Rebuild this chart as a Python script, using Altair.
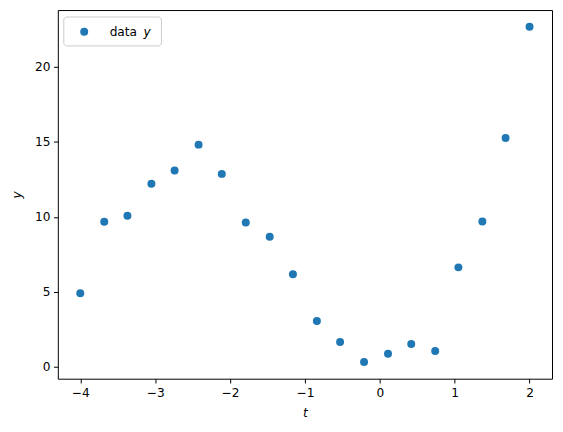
import altair as alt
import pandas as pd

t_values = [-4.0, -3.68, -3.37, -3.05, -2.74, -2.42, -2.11, -1.79, -1.47, -1.16,
            -0.84, -0.53, -0.21, 0.11, 0.42, 0.74, 1.05, 1.37, 1.68, 2.0]
y_values = [4.92, 9.68, 10.08, 12.21, 13.09, 14.82, 12.87, 9.63, 8.68, 6.18,
            3.06, 1.66, 0.33, 0.88, 1.53, 1.06, 6.64, 9.70, 15.26, 22.68]
x_ticks = [-4, -3, -2, -1, 0, 1, 2]
y_ticks = [0, 5, 10, 15, 20]
legend_label = "data"
legend_var = "y"

FONT = "DejaVu Sans"
FS = 12.2
BLUE = "#1f77b4"

df = pd.DataFrame({"t": t_values, "y": y_values})
one = pd.DataFrame({"k": [0]})

W, H = 496, 370

points = alt.Chart(df).mark_circle(size=64, color=BLUE, opacity=1).encode(
    x=alt.X("t:Q",
            scale=alt.Scale(domain=[-4.3, 2.3], nice=False, zero=False),
            axis=alt.Axis(values=x_ticks, title="t", titleFontStyle="italic",
                          format="d")),
    y=alt.Y("y:Q",
            scale=alt.Scale(domain=[-0.78, 23.79], nice=False, zero=False),
            axis=alt.Axis(values=y_ticks, title="y", titleFontStyle="italic",
                          format="d")),
)

leg_box = alt.Chart(one).mark_rect(
    fill="white", fillOpacity=0.8, stroke="#cccccc", strokeWidth=1, cornerRadius=3
).encode(x=alt.value(6), x2=alt.value(104), y=alt.value(7), y2=alt.value(36))

leg_pt = alt.Chart(one).mark_circle(size=64, color=BLUE, opacity=1).encode(
    x=alt.value(26.5), y=alt.value(21.7))

leg_txt = alt.Chart(one).mark_text(
    align="left", baseline="middle", font=FONT, fontSize=FS, color="black"
).encode(x=alt.value(52), y=alt.value(21.7), text=alt.value(legend_label))

leg_var = alt.Chart(one).mark_text(
    align="left", baseline="middle", font=FONT, fontSize=FS, fontStyle="italic",
    color="black"
).encode(x=alt.value(86), y=alt.value(21.7), text=alt.value(legend_var))

chart = alt.layer(points, leg_box, leg_pt, leg_txt, leg_var).properties(
    width=W, height=H,
    autosize=alt.AutoSizeParams(type="none"),
    padding={"left": 50, "top": 1.3, "right": 3, "bottom": 40},
).configure_view(
    stroke="black", strokeWidth=1
).configure_axis(
    grid=False,
    domain=False,
    tickColor="black", tickWidth=1, tickSize=4.3,
    labelFont=FONT, labelFontSize=FS, labelColor="black", labelPadding=3.5,
    titleFont=FONT, titleFontSize=FS, titleColor="black", titleFontWeight="normal",
).configure_axisX(
    titlePadding=8,
).configure_axisY(
    titlePadding=11,
)

chart.save("out.html", embed_options={"renderer": "svg", "actions": False})
